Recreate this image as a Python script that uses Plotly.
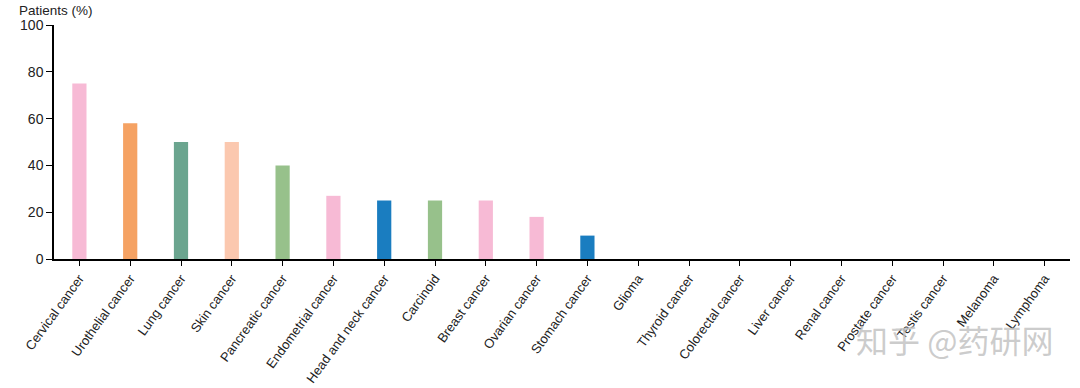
import plotly.graph_objects as go

categories = ["Cervical cancer", "Urothelial cancer", "Lung cancer", "Skin cancer",
              "Pancreatic cancer", "Endometrial cancer", "Head and neck cancer", "Carcinoid",
              "Breast cancer", "Ovarian cancer", "Stomach cancer", "Glioma", "Thyroid cancer",
              "Colorectal cancer", "Liver cancer", "Renal cancer", "Prostate cancer",
              "Testis cancer", "Melanoma", "Lymphoma"]
values = [75, 58, 50, 50, 40, 27, 25, 25, 25, 18, 10, 0, 0, 0, 0, 0, 0, 0, 0, 0]
colors = ["#F7BAD5", "#F5A263", "#6BA58F", "#FBC8AF", "#97C18B", "#F7BAD5", "#1A7DC0",
          "#97C18B", "#F7BAD5", "#F7BAD5", "#1A7DC0", "#F7BAD5", "#F7BAD5", "#F7BAD5",
          "#F7BAD5", "#F7BAD5", "#F7BAD5", "#F7BAD5", "#F7BAD5", "#F7BAD5"]
y_ticks = [0, 20, 40, 60, 80, 100]

fig = go.Figure(go.Bar(x=categories, y=values, marker_color=colors, marker_line_width=0,
                       width=0.28))

font = "Liberation Sans, Arial, sans-serif"
fig.update_layout(
    width=1080, height=388,
    margin=dict(l=54, r=10, t=25, b=129),
    plot_bgcolor="white", paper_bgcolor="white",
    showlegend=False,
    font=dict(family=font, size=13, color="#222"),
    xaxis=dict(showline=True, linecolor="black", linewidth=1.5, ticks="outside",
               ticklen=5, tickcolor="black", tickangle=-54, automargin=False,
               range=[-0.5, 19.5], tickfont=dict(size=13, color="#222"), showgrid=False),
    yaxis=dict(showline=True, linecolor="black", linewidth=1.5, ticks="outside",
               ticklen=6, tickcolor="black", range=[0, 100], tickvals=y_ticks,
               automargin=False, showgrid=False, zeroline=False,
               tickfont=dict(size=14, color="#222")),
    annotations=[
        dict(text="Patients (%)", xref="paper", yref="paper", x=-0.036, y=1.0,
             yshift=15, xanchor="left", yanchor="middle", showarrow=False,
             font=dict(size=13.5, color="#222")),
        dict(text="知乎 @药研网", xref="paper", yref="paper", x=0.985, y=-0.34,
             xanchor="right", yanchor="middle", showarrow=False,
             font=dict(family="Noto Sans CJK SC", size=32, color="rgba(195,195,195,0.85)")),
    ],
)

fig.write_html("out.html", config={"displayModeBar": False},
               post_script="document.body.style.margin='0';document.body.style.overflow='hidden';")
